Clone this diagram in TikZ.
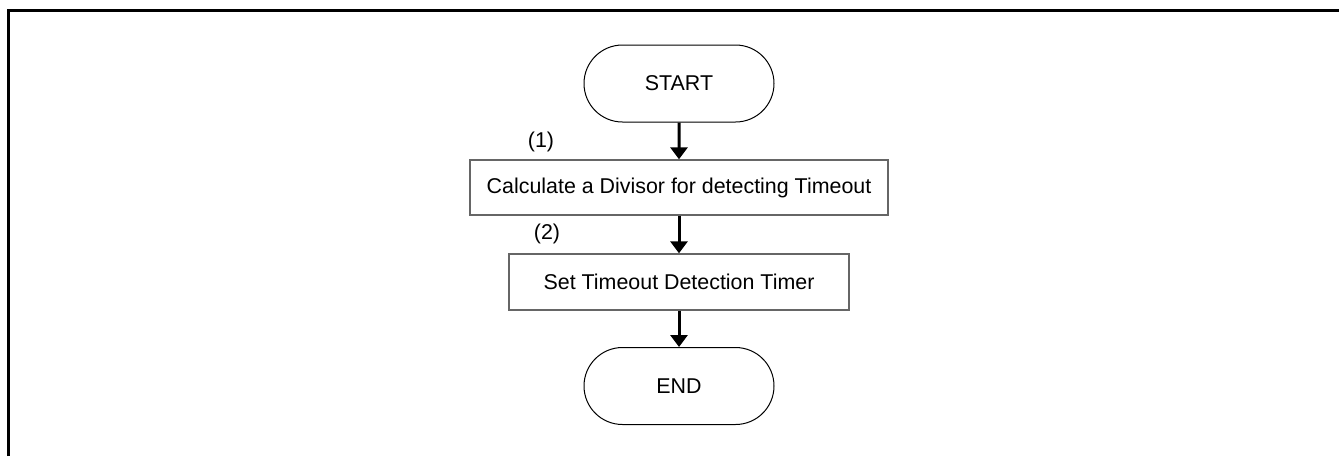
\documentclass[tikz,border=0pt]{standalone}
\usepackage{fontspec}
\setmainfont{Liberation Sans}
\usetikzlibrary{arrows.meta,shapes.misc}
\begin{document}
\begin{tikzpicture}[x=1pt,y=-1pt,
  term/.style={draw=black,line width=1pt,rounded rectangle,minimum width=190pt,minimum height=77pt,inner sep=0pt,font=\fontsize{21.4}{24}\selectfont},
  proc/.style={draw=black!60,line width=1.4pt,rectangle,inner sep=0pt,font=\fontsize{21.4}{24}\selectfont},
  flow/.style={line width=3pt,-{Triangle[width=17pt,length=12pt]}},
  lbl/.style={font=\fontsize{21.4}{24}\selectfont,inner sep=0pt}]
\useasboundingbox (0,0) rectangle (1339,456);
\draw[line width=3pt] (8,456) -- (8,10) -- (1339,10);
\node[term] (start) at (679,83.5) {START};
\node[proc,minimum width=418pt,minimum height=55pt] (calc) at (679,187.5) {Calculate a Divisor for detecting Timeout};
\node[proc,minimum width=340pt,minimum height=56pt] (set) at (679,282) {Set Timeout Detection Timer};
\node[term] (end) at (679,386) {END};
\node[lbl] (l1) at (541,142) {(1)};
\node[lbl] (l2) at (547,234) {(2)};
\draw[flow] (start) -- (calc);
\draw[flow] (calc) -- (set);
\draw[flow] (set) -- (end);
\end{tikzpicture}
\end{document}
